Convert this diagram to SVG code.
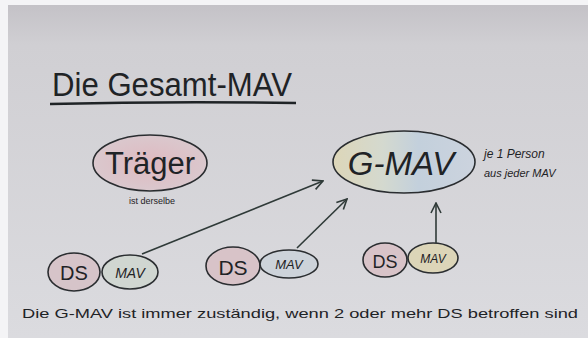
<svg xmlns="http://www.w3.org/2000/svg" width="588" height="338" viewBox="0 0 588 338">
<defs>
<linearGradient id="bg" x1="0" y1="0" x2="0" y2="1">
<stop offset="0" stop-color="#c4c2c7"/>
<stop offset="0.12" stop-color="#d0cfd3"/>
<stop offset="1" stop-color="#dbdbdf"/>
</linearGradient>
<linearGradient id="gmav" x1="0" y1="0" x2="1" y2="0">
<stop offset="0" stop-color="#ddd6b8"/>
<stop offset="0.35" stop-color="#d4d9cf"/>
<stop offset="0.6" stop-color="#c3d0dc"/>
<stop offset="1" stop-color="#ccd3de"/>
</linearGradient>
<radialGradient id="pink" cx="0.5" cy="0.5" r="0.6">
<stop offset="0" stop-color="#dfb9c0"/>
<stop offset="1" stop-color="#d9cbd0"/>
</radialGradient>
<marker id="ah" viewBox="0 0 12 12" refX="11" refY="6" markerWidth="12" markerHeight="12" markerUnits="userSpaceOnUse" orient="auto">
<path d="M1,1 L11,6 L1,11" fill="none" stroke="#2f3a38" stroke-width="1.6"/>
</marker>
<style>
.hand{font-family:"Liberation Sans","DejaVu Sans",sans-serif;fill:#1f2326;}
.edge{fill:none;stroke:#2f3a38;stroke-width:1.6;marker-end:url(#ah);}
.ring{stroke:#2a2d30;stroke-width:1.6;}
</style>
</defs>
<rect width="588" height="338" fill="#f4f4f6"/>
<rect x="8" y="5" width="580" height="333" fill="url(#bg)"/>

<g id="title">
<text class="hand" x="52" y="96" font-size="33" textLength="240" lengthAdjust="spacingAndGlyphs">Die Gesamt-MAV</text>
<path d="M50,104 Q170,101 296,103" fill="none" stroke="#1f2326" stroke-width="2.4"/>
</g>

<g id="traeger">
<ellipse cx="150" cy="163" rx="57" ry="28" fill="url(#pink)" class="ring"/>
<text class="hand" x="150" y="174" font-size="31" text-anchor="middle">Träger</text>
<text class="hand" x="152" y="204" font-size="9" text-anchor="middle" fill="#3a3f44">ist derselbe</text>
</g>

<g id="gmav-node">
<ellipse cx="404" cy="162" rx="71" ry="31" fill="url(#gmav)" class="ring"/>
<text class="hand" x="401" y="175" font-size="33" text-anchor="middle" font-style="italic" fill="#2c3436">G-MAV</text>
<text class="hand" x="484" y="158" font-size="12" font-style="italic">je 1 Person</text>
<text class="hand" x="484" y="177" font-size="11" font-style="italic">aus jeder MAV</text>
</g>

<g id="ds1">
<ellipse cx="74" cy="272" rx="26" ry="19" fill="#d6c4c9" class="ring"/>
<text class="hand" x="74" y="280" font-size="20" text-anchor="middle" fill="#5a2030">DS</text>
</g>
<g id="mav1">
<ellipse cx="130" cy="272" rx="28" ry="17" fill="#d0d6d1" class="ring"/>
<text class="hand" x="130" y="278" font-size="14" text-anchor="middle" font-style="italic" fill="#1e3a36">MAV</text>
</g>

<g id="ds2">
<ellipse cx="233" cy="266" rx="27" ry="19" fill="#d8c3c8" class="ring"/>
<text class="hand" x="233" y="275" font-size="21" text-anchor="middle" fill="#5a2030">DS</text>
</g>
<g id="mav2">
<ellipse cx="289" cy="264" rx="29" ry="14" fill="#cdd3da" class="ring"/>
<text class="hand" x="289" y="269" font-size="13" text-anchor="middle" font-style="italic" fill="#1e2e3a">MAV</text>
</g>

<g id="ds3">
<ellipse cx="385" cy="260" rx="22" ry="17" fill="#d8c3c8" class="ring"/>
<text class="hand" x="385" y="268" font-size="18" text-anchor="middle" fill="#5a2030">DS</text>
</g>
<g id="mav3">
<ellipse cx="433" cy="258" rx="25" ry="15" fill="#dcd5b8" class="ring"/>
<text class="hand" x="433" y="263" font-size="12" text-anchor="middle" font-style="italic" fill="#2a2a1e">MAV</text>
</g>

<g id="connectors">
<path class="edge" d="M142,254 L323,181"/>
<path class="edge" d="M297,248 L347,199"/>
<path class="edge" d="M436,243 L436,203"/>
</g>

<g id="footer">
<text class="hand" x="22" y="318" font-size="13" textLength="556" lengthAdjust="spacingAndGlyphs">Die G-MAV ist immer zuständig, wenn 2 oder mehr DS betroffen sind</text>
</g>
</svg>
